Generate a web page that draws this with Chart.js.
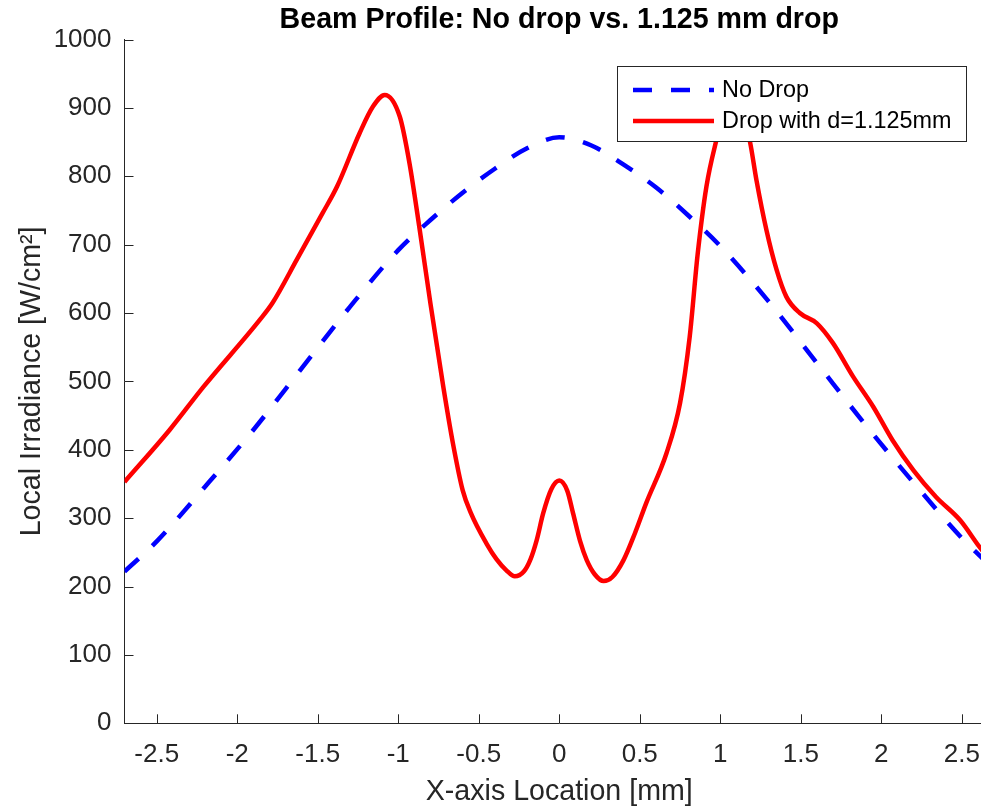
<!DOCTYPE html>
<html>
<head>
<meta charset="utf-8">
<script src="https://cdn.jsdelivr.net/npm/chart.js@4.4.1/dist/chart.umd.min.js"></script>
<style>
  html, body { margin: 0; padding: 0; background: #fff; overflow: hidden; }
  #wrap { width: 1000px; height: 809px; }
</style>
</head>
<body>
<div id="wrap"><canvas id="chart" width="1000" height="809"></canvas></div>
<script>
// values
const noDropX = [-2.7, -2.5, -2.2, -1.9, -1.6, -1.3, -1.0, -0.8, -0.6, -0.4, -0.2, 0, 0.2, 0.4, 0.6, 0.8, 1.0, 1.3, 1.6, 1.9, 2.2, 2.5, 2.7];
const noDropY = [222, 266, 346, 429, 519, 609, 692, 736, 776, 811, 841, 857, 845, 817, 784, 743, 698, 617, 527, 437, 352, 271, 225];

const dropX = [-2.7, -2.42, -2.21, -1.86, -1.78, -1.63, -1.47, -1.38, -1.24, -1.157, -1.084, -0.99, -0.93, -0.866, -0.8, -0.72, -0.66, -0.6, -0.55, -0.45, -0.39, -0.33, -0.276, -0.22, -0.18, -0.14, -0.1, -0.05, 0, 0.05, 0.086, 0.13, 0.17, 0.22, 0.276, 0.33, 0.4, 0.47, 0.54, 0.666, 0.75, 0.81, 0.86, 0.914, 0.976, 1.03, 1.08, 1.13, 1.185, 1.225, 1.287, 1.35, 1.41, 1.494, 1.6, 1.7, 1.825, 1.95, 2.07, 2.2, 2.34, 2.49, 2.61, 2.7];
const dropY = [353, 429, 492, 590, 615, 678, 746, 785, 863, 902, 919, 887, 819, 721, 614, 492, 409, 341, 308, 262, 240, 224, 215, 222, 239, 268, 307, 342, 355, 340, 307, 266, 239, 218, 208, 214, 239, 278, 322, 395, 468, 565, 687, 785, 853, 900, 922, 900, 850, 794, 721, 663, 624, 600, 585, 556, 507, 463, 414, 370, 331, 297, 258, 232];

const xTicks = [-2.5, -2, -1.5, -1, -0.5, 0, 0.5, 1, 1.5, 2, 2.5];
const yTicks = [0, 100, 200, 300, 400, 500, 600, 700, 800, 900, 1000];

const axisColor = "#262626";
const fontFam = "'Liberation Sans', Arial, Helvetica, sans-serif";

const toPoints = (xs, ys) => xs.map((x, i) => ({ x: x, y: ys[i] }));

// MATLAB style ticks pointing into the plot
const innerTicks = {
  id: "innerTicks",
  afterDraw(chart) {
    const ctx = chart.ctx;
    const xs = chart.scales.x, ys = chart.scales.y;
    const area = chart.chartArea;
    ctx.save();
    ctx.strokeStyle = axisColor;
    ctx.lineWidth = 1;
    ctx.beginPath();
    xTicks.forEach(v => {
      const px = Math.round(xs.getPixelForValue(v)) + 0.5;
      ctx.moveTo(px, area.bottom);
      ctx.lineTo(px, area.bottom - 9);
    });
    yTicks.forEach(v => {
      const py = Math.round(ys.getPixelForValue(v)) + 0.5;
      ctx.moveTo(area.left, py);
      ctx.lineTo(area.left + 9, py);
    });
    ctx.stroke();
    ctx.restore();
  }
};

// legend box in the upper right, drawn over the lines
const boxLegend = {
  id: "boxLegend",
  afterDraw(chart) {
    const ctx = chart.ctx;
    const x0 = 617.5, y0 = 66.5, w = 349, h = 75;
    ctx.save();
    ctx.fillStyle = "#fff";
    ctx.fillRect(x0, y0, w, h);
    ctx.strokeStyle = axisColor;
    ctx.lineWidth = 1;
    ctx.strokeRect(x0, y0, w, h);
    const rows = [90, 121];
    chart.data.datasets.forEach((ds, i) => {
      const y = rows[i];
      ctx.beginPath();
      ctx.strokeStyle = ds.borderColor;
      ctx.lineWidth = ds.borderWidth;
      ctx.lineCap = "butt";
      ctx.setLineDash(ds.borderDash || []);
      ctx.moveTo(633, y);
      ctx.lineTo(714, y);
      ctx.stroke();
      ctx.setLineDash([]);
      ctx.fillStyle = "#000";
      ctx.font = "23.4px " + fontFam;
      ctx.textBaseline = "middle";
      ctx.textAlign = "left";
      ctx.fillText(ds.label, 722, y + 1);
    });
    ctx.restore();
  }
};

new Chart(document.getElementById("chart"), {
  type: "scatter",
  data: {
    datasets: [
      {
        label: "No Drop",
        data: toPoints(noDropX, noDropY),
        showLine: true,
        borderColor: "#0000ff",
        borderWidth: 4.5,
        borderDash: [19, 19],
        borderCapStyle: "butt",
        pointRadius: 0,
        cubicInterpolationMode: "monotone",
        order: 1
      },
      {
        label: "Drop with d=1.125mm",
        data: toPoints(dropX, dropY),
        showLine: true,
        borderColor: "#ff0000",
        borderWidth: 4.5,
        pointRadius: 0,
        cubicInterpolationMode: "monotone",
        order: 0
      }
    ]
  },
  options: {
    responsive: false,
    animation: false,
    events: [],
    layout: { padding: { right: 6, top: 0, left: 0, bottom: 0 } },
    plugins: {
      legend: { display: false },
      tooltip: { enabled: false },
      title: {
        display: true,
        fullSize: false,
        text: "Beam Profile: No drop vs. 1.125 mm drop",
        color: "#000",
        font: { family: fontFam, size: 28.6, weight: "bold", lineHeight: 1.2 },
        padding: { top: 3, bottom: 2.2 }
      }
    },
    scales: {
      x: {
        type: "linear",
        min: -2.7,
        max: 2.7,
        afterBuildTicks: s => { s.ticks = xTicks.map(v => ({ value: v })); },
        afterFit: s => { s.height = 85.7; },
        grid: { color: "transparent", drawTicks: false },
        border: { display: true, color: axisColor, width: 1 },
        ticks: {
          color: axisColor,
          padding: 16,
          maxRotation: 0,
          font: { family: fontFam, size: 26 },
          callback: v => String(v)
        },
        title: {
          display: true,
          text: "X-axis Location [mm]",
          color: axisColor,
          font: { family: fontFam, size: 28.6, lineHeight: 1.2 },
          padding: { top: 0, bottom: 0 }
        }
      },
      y: {
        type: "linear",
        min: 0,
        max: 1000,
        afterBuildTicks: s => { s.ticks = yTicks.map(v => ({ value: v })); },
        afterFit: s => { s.width = 124.5; },
        grid: { color: "transparent", drawTicks: false },
        border: { display: true, color: axisColor, width: 1 },
        ticks: {
          color: axisColor,
          padding: 13,
          font: { family: fontFam, size: 26 },
          callback: v => String(v)
        },
        title: {
          display: true,
          text: "Local Irradiance [W/cm²]",
          color: axisColor,
          font: { family: fontFam, size: 28.6, lineHeight: 1.2 },
          padding: { top: 15, bottom: 0 }
        }
      }
    }
  },
  plugins: [innerTicks, boxLegend]
});
</script>
</body>
</html>
